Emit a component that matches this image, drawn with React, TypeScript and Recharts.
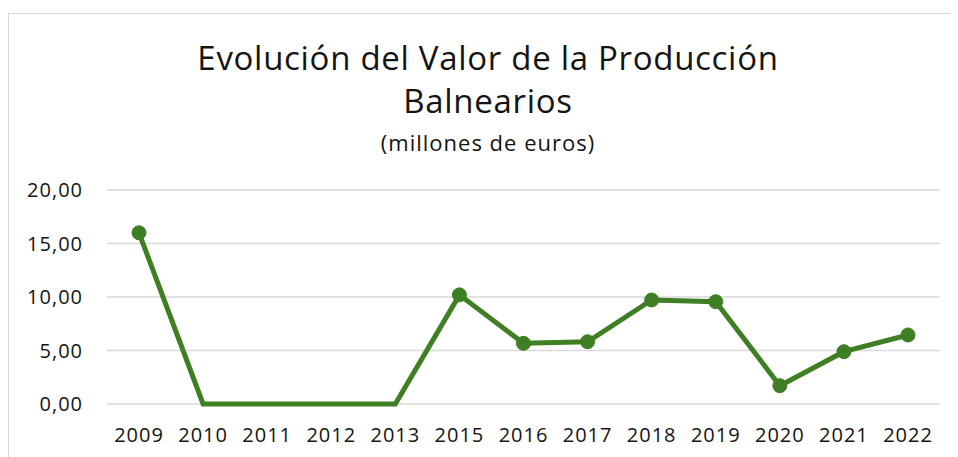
import React from 'react';
import { LineChart, Line, XAxis, YAxis, CartesianGrid } from 'recharts';

const years = ['2009', '2010', '2011', '2012', '2013', '2015', '2016', '2017', '2018', '2019', '2020', '2021', '2022'];
const values = [16.0, 0, 0, 0, 0, 10.2, 5.67, 5.82, 9.72, 9.56, 1.71, 4.89, 6.45];
const yTicks = [0, 5, 10, 15, 20];

const data = years.map((year, i) => ({
  year,
  valor: values[i]
}));

const font = '"Open Sans", "Noto Sans", sans-serif';
const green = '#3f7f24';
const ink = '#141414';

const fmt = (v: number) => v.toFixed(2).replace('.', ',');

// Excel hides markers on the zero points
const Dot = (props: any) => {
  const { cx, cy, value, index } = props;
  if (!value) return <g key={index} />;
  return <circle key={index} cx={cx} cy={cy} r={7} fill={green} stroke={green} strokeWidth={1} />;
};

const tickStyle = {
  fill: ink,
  fontSize: 20,
  fontFamily: font,
  letterSpacing: 1
};

const line = (top: number, size: number, spacing: number): React.CSSProperties => ({
  position: 'absolute',
  left: 479,
  top,
  transform: 'translateX(-50%)',
  fontSize: size,
  lineHeight: 1,
  letterSpacing: spacing,
  color: ink,
  whiteSpace: 'nowrap'
});

const App: React.FC = () => {
  return <div style={{
    position: 'relative',
    marginTop: 5,
    width: 942,
    height: 444,
    overflow: 'hidden',
    borderLeft: '1px solid #d9d9d9',
    borderTop: '1px solid #d9d9d9',
    background: '#fff',
    fontFamily: font
  }}>
      <div style={line(27, 33, 0.7)}>Evolución del Valor de la Producción</div>
      <div style={line(70, 33, 0.7)}>Balnearios</div>
      <div style={line(117, 22, 1)}>(millones de euros)</div>
      <div style={{ position: 'absolute', left: 0, top: 0 }}>
        <LineChart width={950} height={450} data={data} margin={{
        top: 176,
        right: 19,
        left: 0,
        bottom: 0
      }}>
          <CartesianGrid vertical={false} stroke="#d9d9d9" strokeWidth={1.5} />
          <XAxis dataKey="year" axisLine={false} tickLine={false} tickSize={0} tickMargin={24} height={60} interval={0} padding={{
          left: 32,
          right: 32
        }} tick={tickStyle} />
          <YAxis domain={[0, 20]} ticks={yTicks} tickFormatter={fmt} axisLine={false} tickLine={false} tickSize={0} tickMargin={24} width={98} tick={tickStyle} />
          <Line type="linear" dataKey="valor" stroke={green} strokeWidth={5} dot={<Dot />} activeDot={false} isAnimationActive={false} />
        </LineChart>
      </div>
    </div>;
};

export default App;
